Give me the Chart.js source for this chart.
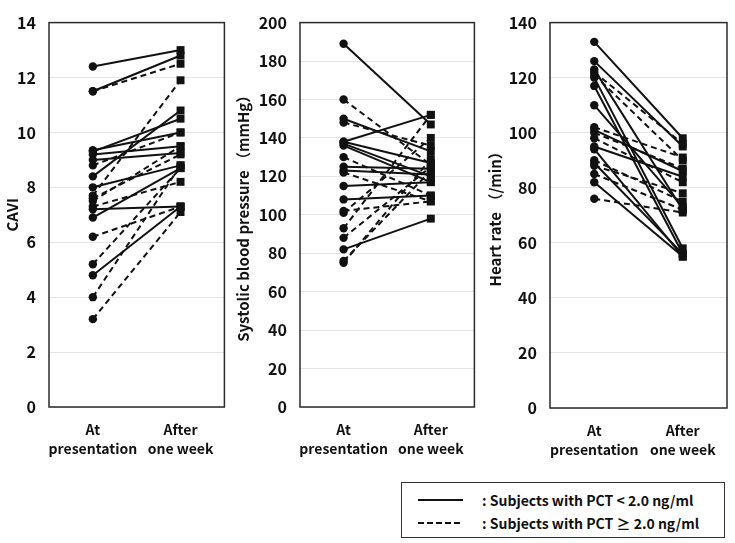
<!DOCTYPE html>
<html>
<head>
<meta charset="utf-8">
<script src="https://cdn.jsdelivr.net/npm/chart.js@4/dist/chart.umd.min.js"></script>
<style>
  html, body { margin: 0; padding: 0; background: #fff; }
  body { width: 735px; height: 543px; position: relative; overflow: hidden; font-family: "Noto Sans CJK JP", "Liberation Sans", sans-serif; }
  canvas { position: absolute; top: 0; }
  #legend { position: absolute; left: 401px; top: 482px; width: 324px; height: 56px; border: 1.5px solid #333; box-sizing: border-box; }
  #legend .row { position: absolute; left: 0; height: 20px; width: 100%; }
  #legend svg { position: absolute; left: 15px; top: 0; }
  #legend span { position: absolute; left: 80px; top: 0; font-size: 14px; line-height: 20px; font-weight: bold; color: #111; white-space: nowrap; }
</style>
</head>
<body>
<canvas id="c1" width="230" height="470" style="left:0px"></canvas>
<canvas id="c2" width="250" height="470" style="left:230px"></canvas>
<canvas id="c3" width="253" height="470" style="left:482px"></canvas>
<div id="legend">
  <div class="row" style="top:7px">
    <svg width="50" height="20"><line x1="1" y1="10" x2="46" y2="10" stroke="#111" stroke-width="2"/></svg>
    <span>: Subjects with PCT &lt; 2.0 ng/ml</span>
  </div>
  <div class="row" style="top:30px">
    <svg width="50" height="20"><line x1="1" y1="10" x2="46" y2="10" stroke="#111" stroke-width="2" stroke-dasharray="6,3"/></svg>
    <span>: Subjects with PCT ≥ 2.0 ng/ml</span>
  </div>
</div>
<script>
// ---- data ----
const categories = [['At', 'presentation'], ['After', 'one week']];

// CAVI
const caviSolidPre  = [12.4, 11.5, 8.4, 9.3, 9.35, 9.2, 9.0, 8.0, 6.9, 7.2, 4.8];
const caviSolidPost = [13.0, 12.8, 10.8, 10.5, 10.0, 9.5, 9.25, 8.8, 8.7, 7.3, 7.3];
const caviDashPre   = [11.5, 7.7, 8.8, 7.5, 7.3, 6.2, 5.2, 4.0, 3.2, 7.6];
const caviDashPost  = [12.5, 11.9, 10.0, 9.5, 8.2, 7.3, 8.7, 8.8, 7.1, 9.2];

// Systolic blood pressure (mmHg)
const sbpSolidPre  = [189, 150, 138, 138, 137, 136, 125, 123, 115, 108, 82];
const sbpSolidPost = [147, 133, 152, 127, 120, 117, 124, 121, 117, 110, 98];
const sbpDashPre   = [160, 148, 130, 122, 102, 93, 88, 76, 75, 101];
const sbpDashPost  = [126, 136, 110, 107, 107, 152, 125, 123, 129, 140];

// Heart rate (/min)
const hrSolidPre  = [133, 126, 123, 120, 117, 110, 101, 95, 94, 89, 82];
const hrSolidPost = [98, 95, 72, 58, 56, 73, 86, 84, 55, 56, 55];
const hrDashPre   = [122, 121, 102, 98, 90, 88, 85, 76, 100];
const hrDashPost  = [96, 90, 91, 82, 75, 78, 72, 71, 87];

// axis ranges [max, step]
const caviAxis = [14, 2];
const sbpAxis  = [200, 20];
const hrAxis   = [140, 20];

const titles = ['CAVI', 'Systolic blood pressure （mmHg）', 'Heart rate （/min）'];

// ---- drawing ----
const FONT = '"Noto Sans CJK JP", "Liberation Sans", sans-serif';
const framePlugin = {
  id: 'frame',
  afterDraw(chart) {
    const { ctx, chartArea: a } = chart;
    ctx.save();
    ctx.strokeStyle = '#2a2a2a';
    ctx.lineWidth = 1.5;
    ctx.strokeRect(a.left, a.top, a.right - a.left, a.bottom - a.top);
    ctx.restore();
  }
};

function subjectSets(pre, post, dashed) {
  return pre.map((v, i) => ({
    data: [v, post[i]],
    borderColor: '#111',
    backgroundColor: '#111',
    borderWidth: 2,
    borderDash: dashed ? [6, 4] : [],
    pointStyle: ['circle', 'rect'],
    pointRadius: [4.2, 5.6],
    pointBorderWidth: 0,
    pointBackgroundColor: '#111',
    tension: 0,
    clip: false
  }));
}

function makeChart(id, solidPre, solidPost, dashPre, dashPost, axis, title, cfg) {
  const datasets = subjectSets(dashPre, dashPost, true).concat(subjectSets(solidPre, solidPost, false));
  new Chart(document.getElementById(id), {
    type: 'line',
    data: { labels: categories, datasets },
    plugins: [framePlugin],
    options: {
      responsive: false,
      animation: false,
      events: [],
      layout: { padding: { top: cfg.top, right: cfg.right, left: 0, bottom: 0 } },
      plugins: { legend: { display: false }, tooltip: { enabled: false } },
      scales: {
        x: {
          offset: true,
          grid: { display: false },
          border: { display: false },
          ticks: { color: '#111', font: { family: FONT, size: 14, weight: 'bold', lineHeight: 1.3 }, padding: 6, maxRotation: 0, autoSkip: false },
          afterFit: s => { s.height = 470 - cfg.bottom; }
        },
        y: {
          min: 0, max: axis[0],
          grid: { color: '#e4e4e4', lineWidth: 1, drawTicks: false },
          border: { display: false },
          ticks: { stepSize: axis[1], color: '#111', font: { family: FONT, size: 16, weight: 'bold' }, padding: 13 },
          title: { display: true, text: title, color: '#111', font: { family: FONT, size: 15, weight: 'bold' }, padding: { top: cfg.titlePad, bottom: 0 } },
          afterFit: s => { s.width = cfg.axisW; }
        }
      }
    }
  });
}

makeChart('c1', caviSolidPre, caviSolidPost, caviDashPre, caviDashPost, caviAxis, titles[0], { top: 12, right: 4, bottom: 407, axisW: 49, titlePad: 3 });
makeChart('c2', sbpSolidPre, sbpSolidPost, sbpDashPre, sbpDashPost, sbpAxis, titles[1], { top: 12, right: 4, bottom: 407, axisW: 70, titlePad: 4 });
makeChart('c3', hrSolidPre, hrSolidPost, hrDashPre, hrDashPost, hrAxis, titles[2], { top: 16, right: 8, bottom: 408, axisW: 68, titlePad: 4 });
</script>
</body>
</html>
